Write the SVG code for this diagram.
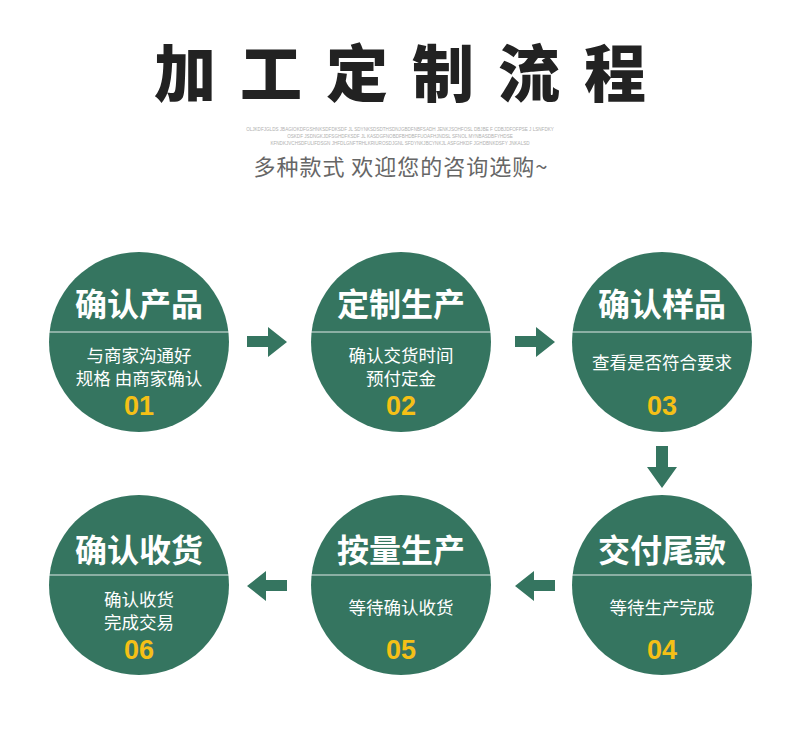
<svg xmlns="http://www.w3.org/2000/svg" width="790" height="750" viewBox="0 0 790 750">
<style>
.title{font-family:"Noto Sans CJK SC","Noto Sans",sans-serif;font-weight:900;font-size:62px;fill:#222;text-anchor:middle}
.sub{font-family:"Noto Sans CJK SC","Noto Sans",sans-serif;font-size:22px;fill:#666;text-anchor:middle;letter-spacing:1px}
.tiny{font-family:"Liberation Sans",sans-serif;font-size:4.6px;fill:#b0b0b0;text-anchor:middle}
.c{fill:#357560}
.ln{stroke:#ffffff;stroke-width:1.2;opacity:0.85}
.h{font-family:"Noto Sans CJK SC","Noto Sans",sans-serif;font-weight:700;font-size:32px;fill:#fff;text-anchor:middle}
.d{font-family:"Noto Sans CJK SC","Noto Sans",sans-serif;font-size:17.5px;fill:#fff;text-anchor:middle}
.n{font-family:"Liberation Sans",sans-serif;font-weight:700;font-size:27px;fill:#f5c016;text-anchor:middle}
.ar{fill:#357560}
</style>
<rect width="790" height="750" fill="#fff"/>
<g id="header">
<text class="title" y="97"><tspan x="185">加</tspan><tspan x="271">工</tspan><tspan x="357">定</tspan><tspan x="443">制</tspan><tspan x="529">流</tspan><tspan x="615">程</tspan></text>
<text class="tiny" x="400" y="131">OLJKDFJGLDS JBAGIOKDFGSHNKSDFDKSDF JL SDYNKSDSDTHSDNJGBDFNBFSADH JENKJSOHFOSL DBJBE F CDBJDFOFPSE J LSNFDKY</text>
<text class="tiny" x="400" y="138">OSKDF JSDNGKJDFSGHDFKSDF JL KASDGFNOBDFBHDBFFUOAFHJNDSL SFNOL MYNBASDBFYHDSE</text>
<text class="tiny" x="400" y="145">KFNDKJVCHSDFULIFDSGN JHFDLGNFTRHLKRIUROSDJGNL SFDYNKJBCYNKJL ASFGHKDF JGHDBNKDSFY JNKALSD</text>
<text class="sub" x="401" y="175">多种款式 欢迎您的咨询选购~</text>
</g>
<g id="connectors">
<polygon class="ar" points="247,336 268,336 268,327 287,342 268,357 268,347 247,347"/>
<polygon class="ar" points="515,336 536,336 536,327 555,342 536,357 536,347 515,347"/>
<polygon class="ar" points="656,446 668,446 668,467 677,467 662,488 647,467 656,467"/>
<polygon class="ar" points="555,580 534,580 534,571 515,586 534,601 534,591 555,591"/>
<polygon class="ar" points="287,580 266,580 266,571 247,586 266,601 266,591 287,591"/>
</g>
<g id="step1">
<circle class="c" cx="139" cy="342" r="90"/>
<line class="ln" x1="49" y1="332" x2="229" y2="332"/>
<text class="h" x="139" y="316">确认产品</text>
<text class="d" x="139" y="362">与商家沟通好</text>
<text class="d" x="139" y="385">规格 由商家确认</text>
<text class="n" x="139" y="415">01</text>
</g>
<g id="step2">
<circle class="c" cx="401" cy="342" r="90"/>
<line class="ln" x1="311" y1="332" x2="491" y2="332"/>
<text class="h" x="401" y="316">定制生产</text>
<text class="d" x="401" y="362">确认交货时间</text>
<text class="d" x="401" y="385">预付定金</text>
<text class="n" x="401" y="415">02</text>
</g>
<g id="step3">
<circle class="c" cx="662" cy="342" r="90"/>
<line class="ln" x1="572" y1="332" x2="752" y2="332"/>
<text class="h" x="662" y="316">确认样品</text>
<text class="d" x="662" y="369">查看是否符合要求</text>
<text class="n" x="662" y="415">03</text>
</g>
<g id="step4">
<circle class="c" cx="662" cy="585" r="90"/>
<line class="ln" x1="572" y1="575" x2="752" y2="575"/>
<text class="h" x="662" y="562">交付尾款</text>
<text class="d" x="662" y="614">等待生产完成</text>
<text class="n" x="662" y="659">04</text>
</g>
<g id="step5">
<circle class="c" cx="401" cy="585" r="90"/>
<line class="ln" x1="311" y1="575" x2="491" y2="575"/>
<text class="h" x="401" y="562">按量生产</text>
<text class="d" x="401" y="614">等待确认收货</text>
<text class="n" x="401" y="659">05</text>
</g>
<g id="step6">
<circle class="c" cx="139" cy="585" r="90"/>
<line class="ln" x1="49" y1="575" x2="229" y2="575"/>
<text class="h" x="139" y="562">确认收货</text>
<text class="d" x="139" y="606">确认收货</text>
<text class="d" x="139" y="629">完成交易</text>
<text class="n" x="139" y="659">06</text>
</g>
</svg>
